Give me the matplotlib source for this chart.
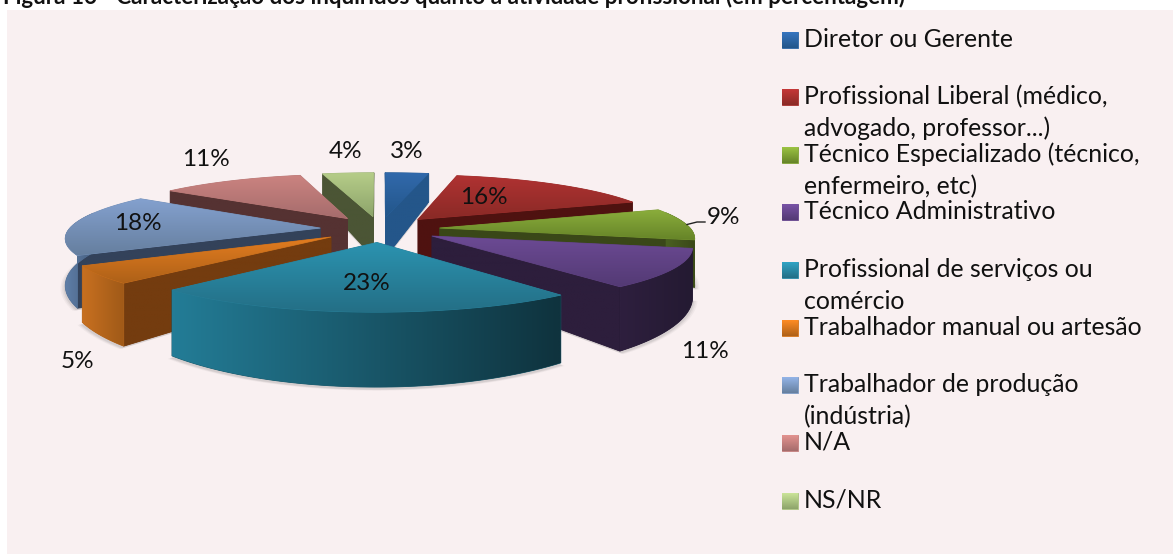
import numpy as np
import matplotlib
matplotlib.use("Agg")
import matplotlib.pyplot as plt
from matplotlib.patches import Polygon, Rectangle
from matplotlib.colors import to_rgb

# ---- data ----
categories = ["Diretor ou Gerente", "Profissional Liberal (médico,\nadvogado, professor...)",
              "Técnico Especializado (técnico,\nenfermeiro, etc)", "Técnico Administrativo",
              "Profissional de serviços ou\ncomércio", "Trabalhador manual ou artesão",
              "Trabalhador de produção\n(indústria)", "N/A", "NS/NR"]
# shares; the labels show them rounded
values = [3.3, 15.9, 9.2, 11.0, 22.8, 5.0, 17.9, 11.0, 3.9]
title = "Figura 16 - Caracterização dos inquiridos quanto à atividade profissional (em percentagem)"

# ---- style ----
plt.rcParams['font.family'] = ['Lato', 'DejaVu Sans']
BG = "#f9f0f1"
top_hi = ["#3169ab", "#b03232", "#8bae3c", "#6c4a94", "#2b93b0", "#e47d20", "#84a1cf", "#cb8380", "#b5cc88"]
top_lo = ["#23568a", "#8a2a26", "#668428", "#533a74", "#246f86", "#ae6118", "#667f9f", "#a56c6c", "#8da46b"]
wall_c = ["#24568a", "#4f1210", "#3a4718", "#2d1e3c", "#14606f", "#743c0f", "#33425a", "#553232", "#4b5535"]
out_hi = ["#24568a", "#5a1612", "#4a6020", "#2e1f3e", "#237c96", "#c87020", "#5f7fa8", "#804f4f", "#6a7c4a"]
out_lo = ["#1c4470", "#4a1210", "#3a4718", "#241a32", "#0f333e", "#a05a18", "#475f80", "#604040", "#4b5535"]

# ---- projection ----
CX, CY, R0, EXPL, TILT, K, H0 = 380, 229, 251, 60, 0.216, 0.155, 44


def scale(Y):
    return 1 / (1 + K * Y / R0)


def project(X, Y):
    X, Y = np.asarray(X, float), np.asarray(Y, float)
    s = scale(Y)
    return CX + X * s, CY - TILT * Y * s


def wall_h(Y):
    return H0 * scale(np.asarray(Y, float)) ** 2.5


fig = plt.figure(figsize=(11.73, 5.54), dpi=100, facecolor="white")
ax = fig.add_axes([0, 0, 1, 1])
ax.axis("off")
ax.add_patch(Rectangle((7, 10), 1173, 560, fc=BG, ec="none", zorder=0))

zc = [1]


def fill(poly, c0, c1, vertical=True):
    poly = np.asarray(poly)
    zc[0] += 1
    c0, c1 = np.array(to_rgb(c0)), np.array(to_rgb(c1))
    mid = tuple((c0 + c1) / 2)
    ax.add_patch(Polygon(poly, closed=True, fc=mid, ec=mid, lw=0.6, zorder=zc[0]))
    zc[0] += 1
    t = np.linspace(0, 1, 64)[:, None]
    g = c0 * (1 - t) + c1 * t
    img = g[:, None, :] if vertical else g[None, :, :].reshape(1, 64, 3)
    x0, x1, y0, y1 = poly[:, 0].min(), poly[:, 0].max(), poly[:, 1].min(), poly[:, 1].max()
    im = ax.imshow(img, extent=(x0, x1, y1, y0), aspect="auto", origin="upper",
                   interpolation="bilinear", zorder=zc[0])
    im.set_clip_path(Polygon(poly, closed=True, transform=ax.transData))


# slice geometry from the values
frac = np.array(values, float) / np.sum(values)
edges = np.concatenate([[0], np.cumsum(frac)]) * 2 * np.pi
geo = []
for i in range(len(values)):
    t0, t1 = edges[i], edges[i + 1]
    mid = (t0 + t1) / 2
    ax0, ay0 = EXPL * np.sin(mid), EXPL * np.cos(mid)
    th = np.linspace(t0, t1, 80)
    X = ax0 + R0 * np.sin(th)
    Y = ay0 + R0 * np.cos(th)
    geo.append((t0, t1, ax0, ay0, th, X, Y))

# soft shadow below the pie
for grow, alpha in [(1.018, 0.05), (1.012, 0.07), (1.006, 0.10)]:
    for t0, t1, ax0, ay0, th, X, Y in geo:
        px, py = project(np.r_[ax0, ax0 + (X - ax0) * grow], np.r_[ay0, ay0 + (Y - ay0) * grow])
        py = py + wall_h(np.r_[ay0, Y]) + 2
        ax.add_patch(Polygon(np.c_[px, py], closed=True, fc="#505050", ec="none", alpha=alpha, zorder=1))

# painter's order, back to front
order = [0, 8, 7, 1, 6, 2, 3, 5, 4]
CAM_Y = -R0 / K
for i in order:
    t0, t1, ax0, ay0, th, X, Y = geo[i]
    ap = project(ax0, ay0)
    aph = wall_h(ay0)
    # radial walls
    for t, sign in ((t0, -1), (t1, 1)):
        nx, ny = sign * np.cos(t), -sign * np.sin(t)
        if nx * (0 - ax0) + ny * (CAM_Y - ay0) <= 0:
            continue
        ex, ey = ax0 + R0 * np.sin(t), ay0 + R0 * np.cos(t)
        e = project(ex, ey)
        quad = [ap, e, (e[0], e[1] + wall_h(ey)), (ap[0], ap[1] + aph)]
        fill(quad, wall_c[i], wall_c[i], True)
    # outer wall (front-facing part only)
    keep = np.cos(th) < 0.3
    px, py = project(X, Y)
    if keep.sum() > 1:
        tx, ty = px[keep], py[keep]
        by = ty + wall_h(Y[keep])
        fill(np.r_[np.c_[tx, ty], np.c_[tx[::-1], by[::-1]]], out_hi[i], out_lo[i], False)
    # top face
    fill(np.r_[[ap], np.c_[px, py]], top_hi[i], top_lo[i], True)

# data labels
label_xy = [(407, 152), (484, 197), (723, 218), (705, 352), (367, 283),
            (77, 361), (138, 224), (206, 160), (346, 152)]
for v, (lx, ly) in zip(values, label_xy):
    ax.text(lx, ly, f"{round(v)}%", ha="center", va="center", fontsize=17.5, color="#111111", zorder=500)
ax.plot([687, 697, 705], [224.5, 222, 222], color="#222222", lw=1, zorder=500)

# legend
sw_top = [32, 89, 147, 204, 262, 320, 377, 435, 493]
for name, y, hi, lo in zip(categories, sw_top, top_hi, top_lo):
    fill([(782, y), (798, y), (798, y + 16), (782, y + 16)],
         tuple(min(1, c * 1.12) for c in to_rgb(hi)), lo, True)
    for j, line in enumerate(name.split("\n")):
        ax.text(804, y + 7.5 + j * 32, line, ha="left", va="center", fontsize=17.9,
                color="#111111", zorder=500)

ax.text(3, 4, title, ha="left", va="baseline", fontsize=16.1, fontweight="bold", color="#111111", zorder=500)

ax.set_xlim(0, 1173)
ax.set_ylim(554, 0)
fig.savefig("out.png", dpi=100, facecolor="white")
